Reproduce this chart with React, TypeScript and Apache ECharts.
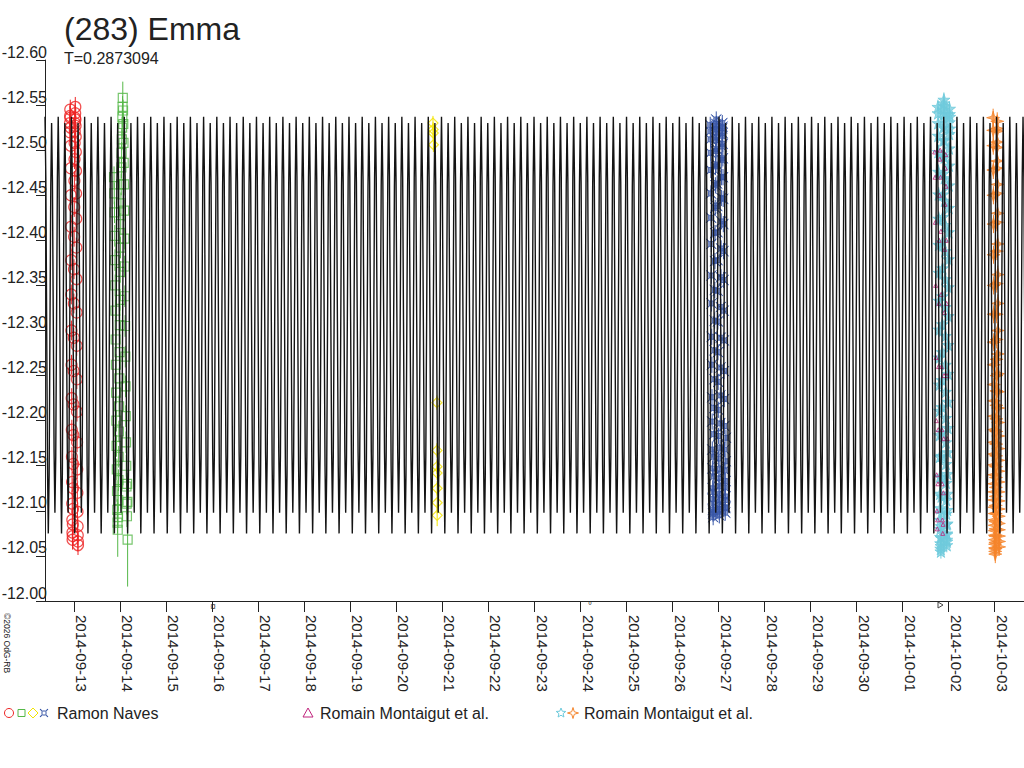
import React, { useEffect, useRef } from "react";
import * as echarts from "echarts";

const FONT = '"Liberation Sans", Arial, sans-serif';
const TITLE = "(283) Emma";
const SUBTITLE = "T=0.2873094";
const COPYRIGHT = "©2026 OdG-RB";

// rotation period (days) and x range (days since 2014-09-13 00:00)
const PERIOD = 0.2873094;
const X_MIN = -0.641;
const X_MAX = 20.641;
const Y_MIN = -12.6;
const Y_MAX = -12.0;
const Y_STEP = 0.05;

const dateLabels = [
  "2014-09-13", "2014-09-14", "2014-09-15", "2014-09-16", "2014-09-17", "2014-09-18", "2014-09-19",
  "2014-09-20", "2014-09-21", "2014-09-22", "2014-09-23", "2014-09-24", "2014-09-25", "2014-09-26",
  "2014-09-27", "2014-09-28", "2014-09-29", "2014-09-30", "2014-10-01", "2014-10-02", "2014-10-03",
];

// one rotation of the model lightcurve (16 phase samples, magnitudes)
const modelPhaseMags = [
  -12.537, -12.47, -12.31, -12.15, -12.075, -12.14, -12.3, -12.46,
  -12.53, -12.465, -12.315, -12.165, -12.098, -12.16, -12.31, -12.47,
];

// [day offset, magnitude, (optional error)]
const redCircles = [
  [-0.1, -12.52], [-0.0972, -12.53], [-0.0944, -12.538], [-0.0916, -12.545], [-0.0888, -12.536], [-0.086, -12.525],
  [-0.0832, -12.505], [-0.0804, -12.48], [-0.0776, -12.45], [-0.0748, -12.415], [-0.072, -12.378], [-0.0692, -12.34],
  [-0.0664, -12.3], [-0.0636, -12.262], [-0.0608, -12.225], [-0.058, -12.19], [-0.0552, -12.16], [-0.0524, -12.132],
  [-0.0496, -12.108], [-0.0468, -12.09], [-0.044, -12.076], [-0.0412, -12.068], [-0.0384, -12.072], [-0.0356, -12.085],
  [-0.0328, -12.102], [-0.03, -12.125], [-0.0272, -12.152], [-0.0244, -12.184], [-0.0216, -12.218], [-0.0188, -12.255],
  [-0.016, -12.292], [-0.0132, -12.33], [-0.0104, -12.368], [-0.0076, -12.404], [-0.0048, -12.437], [-0.002, -12.466],
  [0.0008, -12.49], [0.0036, -12.508], [0.0064, -12.521], [0.0092, -12.53], [0.012, -12.536], [0.0148, -12.541],
  [0.0176, -12.548], [0.0204, -12.534], [0.0232, -12.527], [0.026, -12.515], [0.0288, -12.498], [0.0316, -12.477],
  [0.0344, -12.452], [0.0372, -12.424], [0.04, -12.392], [0.0428, -12.357], [0.0456, -12.32], [0.0484, -12.283],
  [0.0512, -12.246], [0.054, -12.21], [0.0568, -12.176], [0.0596, -12.146], [0.0624, -12.12], [0.0652, -12.099],
  [0.068, -12.083], [0.0708, -12.073], [0.0736, -12.066], [0.0764, -12.062],
];

const greenSquares = [
  [0.86, -12.47], [0.865, -12.452], [0.87, -12.431], [0.875, -12.405], [0.88, -12.378], [0.885, -12.35],
  [0.89, -12.322], [0.895, -12.29], [0.9, -12.262], [0.905, -12.231], [0.91, -12.2], [0.915, -12.172],
  [0.92, -12.146], [0.925, -12.122], [0.93, -12.101], [0.935, -12.087], [0.94, -12.079, 0.03], [0.945, -12.093],
  [0.95, -12.112], [0.955, -12.134], [0.96, -12.16], [0.965, -12.188], [0.97, -12.216], [0.975, -12.247],
  [0.98, -12.276], [0.985, -12.306], [0.99, -12.334], [0.995, -12.365], [1.0, -12.392], [1.005, -12.418],
  [1.01, -12.441], [1.015, -12.462], [1.02, -12.481], [1.025, -12.497], [1.03, -12.512], [1.035, -12.525],
  [1.04, -12.537], [1.045, -12.548], [1.05, -12.558, 0.018], [1.055, -12.544], [1.06, -12.529], [1.065, -12.508],
  [1.07, -12.486], [1.075, -12.462], [1.08, -12.433], [1.085, -12.402], [1.09, -12.371], [1.095, -12.338],
  [1.1, -12.305], [1.105, -12.271], [1.11, -12.238], [1.115, -12.205], [1.12, -12.176], [1.125, -12.15],
  [1.13, -12.127], [1.135, -12.108], [1.14, -12.094], [1.145, -12.13], [1.15, -12.11], [1.155, -12.068, 0.052],
];

const yellowDiamonds = [
  [7.793, -12.53], [7.796, -12.523], [7.799, -12.519], [7.802, -12.506],
  [7.878, -12.22], [7.879, -12.167], [7.88, -12.149], [7.881, -12.142],
  [7.882, -12.125], [7.883, -12.109, 0.012], [7.884, -12.095, 0.012],
];

const blueStars = [
  [13.82, -12.528], [13.8232, -12.521], [13.8264, -12.512], [13.8296, -12.497], [13.8328, -12.478], [13.836, -12.452],
  [13.8392, -12.425], [13.8424, -12.396], [13.8456, -12.361], [13.8488, -12.33], [13.852, -12.293], [13.8552, -12.262],
  [13.8584, -12.226], [13.8616, -12.199], [13.8648, -12.168], [13.868, -12.147], [13.8712, -12.125], [13.8744, -12.113],
  [13.8776, -12.101], [13.8808, -12.097], [13.884, -12.093], [13.8872, -12.099], [13.8904, -12.108], [13.8936, -12.121],
  [13.8968, -12.138], [13.9, -12.16], [13.9032, -12.185], [13.9064, -12.214], [13.9096, -12.246], [13.9128, -12.278],
  [13.916, -12.311], [13.9192, -12.345], [13.9224, -12.377], [13.9256, -12.408], [13.9288, -12.436], [13.932, -12.461],
  [13.9352, -12.482], [13.9384, -12.499], [13.9416, -12.511], [13.9448, -12.52], [13.948, -12.527], [13.9512, -12.534],
  [13.9544, -12.529], [13.9576, -12.523], [13.9608, -12.514], [13.964, -12.501], [13.9672, -12.484], [13.9704, -12.463],
  [13.9736, -12.438], [13.9768, -12.409], [13.98, -12.378], [13.9832, -12.344], [13.9864, -12.31], [13.9896, -12.276],
  [13.9928, -12.243], [13.996, -12.212], [13.9992, -12.183], [14.0024, -12.158], [14.0056, -12.136], [14.0088, -12.119],
  [14.012, -12.107], [14.0152, -12.099], [14.0184, -12.095], [14.0216, -12.102], [14.0248, -12.112], [14.028, -12.127],
  [14.0312, -12.146], [14.0344, -12.17], [14.0376, -12.197], [14.0408, -12.228], [14.044, -12.259], [14.0472, -12.292],
  [14.0504, -12.326], [14.0536, -12.359], [14.0568, -12.391], [14.06, -12.421], [14.0632, -12.447], [14.0664, -12.47],
  [14.0696, -12.489], [14.0728, -12.504], [14.076, -12.516], [14.0792, -12.524], [14.0824, -12.53], [14.0856, -12.526],
  [14.0888, -12.519], [14.092, -12.507], [14.0952, -12.491], [14.0984, -12.47], [14.1016, -12.446], [14.1048, -12.418],
  [14.108, -12.388], [14.1112, -12.356], [14.1144, -12.322], [14.1176, -12.289], [14.1208, -12.255], [14.124, -12.224],
  [14.1272, -12.194], [14.1304, -12.168], [14.1336, -12.145], [14.1368, -12.126], [14.14, -12.112], [14.1432, -12.103],
  [14.1464, -12.098], [14.1496, -12.104], [14.1528, -12.116], [14.156, -12.133], [14.1592, -12.155], [14.1624, -12.181],
];

const magentaTriangles = [
  [18.7, -12.498], [18.707, -12.47], [18.714, -12.42], [18.721, -12.35], [18.728, -12.27], [18.735, -12.2],
  [18.742, -12.14], [18.749, -12.1], [18.756, -12.08], [18.763, -12.09], [18.77, -12.13], [18.777, -12.19],
  [18.784, -12.26], [18.791, -12.33], [18.798, -12.4], [18.805, -12.45], [18.812, -12.49], [18.819, -12.5],
  [18.826, -12.47], [18.833, -12.41], [18.84, -12.34], [18.847, -12.26], [18.854, -12.19], [18.861, -12.13],
  [18.868, -12.09], [18.875, -12.075], [18.882, -12.085], [18.889, -12.12], [18.896, -12.18], [18.903, -12.25],
  [18.91, -12.32], [18.917, -12.39], [18.924, -12.44], [18.931, -12.48], [18.938, -12.495], [18.945, -12.46],
  [18.952, -12.4], [18.959, -12.33], [18.966, -12.25], [18.973, -12.18],
];

const cyanStars = [
  [18.77, -12.548], [18.7726, -12.541], [18.7752, -12.53], [18.7778, -12.516], [18.7804, -12.498], [18.783, -12.476],
  [18.7856, -12.451], [18.7882, -12.424], [18.7908, -12.395], [18.7934, -12.364], [18.796, -12.333], [18.7986, -12.301],
  [18.8012, -12.27], [18.8038, -12.24], [18.8064, -12.211], [18.809, -12.184], [18.8116, -12.16], [18.8142, -12.138],
  [18.8168, -12.119], [18.8194, -12.103], [18.822, -12.09], [18.8246, -12.08], [18.8272, -12.071], [18.8298, -12.064],
  [18.8324, -12.058], [18.835, -12.055], [18.8376, -12.061], [18.8402, -12.07], [18.8428, -12.083], [18.8454, -12.098],
  [18.848, -12.116], [18.8506, -12.137], [18.8532, -12.161], [18.8558, -12.187], [18.8584, -12.215], [18.861, -12.245],
  [18.8636, -12.276], [18.8662, -12.307], [18.8688, -12.338], [18.8714, -12.369], [18.874, -12.398], [18.8766, -12.426],
  [18.8792, -12.451], [18.8818, -12.474], [18.8844, -12.494], [18.887, -12.511], [18.8896, -12.525], [18.8922, -12.536],
  [18.8948, -12.545], [18.8974, -12.552], [18.9, -12.556], [18.9026, -12.549], [18.9052, -12.54], [18.9078, -12.527],
  [18.9104, -12.511], [18.913, -12.492], [18.9156, -12.469], [18.9182, -12.444], [18.9208, -12.417], [18.9234, -12.388],
  [18.926, -12.357], [18.9286, -12.326], [18.9312, -12.294], [18.9338, -12.262], [18.9364, -12.232], [18.939, -12.203],
  [18.9416, -12.176], [18.9442, -12.152], [18.9468, -12.131], [18.9494, -12.112], [18.952, -12.097], [18.9546, -12.085],
  [18.9572, -12.075], [18.9598, -12.068], [18.9624, -12.062], [18.965, -12.066], [18.9676, -12.074], [18.9702, -12.086],
  [18.9728, -12.101], [18.9754, -12.119], [18.978, -12.141], [18.9806, -12.165], [18.9832, -12.192], [18.9858, -12.221],
  [18.9884, -12.252], [18.991, -12.284], [18.9936, -12.316], [18.9962, -12.348], [18.9988, -12.379], [19.0014, -12.409],
  [19.004, -12.436], [19.0066, -12.461], [19.0092, -12.483], [19.0118, -12.502], [19.0144, -12.518], [19.017, -12.531],
  [19.0196, -12.54], [19.0222, -12.546], [19.0248, -12.537], [19.0274, -12.524],
];

const orangeStars = [
  [19.97, -12.536], [19.97146, -12.522], [19.97292, -12.505], [19.97438, -12.478], [19.97584, -12.45], [19.9773, -12.418],
  [19.97876, -12.384], [19.98022, -12.35], [19.98168, -12.318], [19.98314, -12.287], [19.9846, -12.262], [19.98606, -12.24],
  [19.98752, -12.222], [19.98898, -12.205], [19.99044, -12.19], [19.9919, -12.176], [19.99336, -12.163], [19.99482, -12.151],
  [19.99628, -12.14], [19.99774, -12.13], [19.9992, -12.121], [20.00066, -12.112], [20.00212, -12.104], [20.00358, -12.097],
  [20.00504, -12.09], [20.0065, -12.084], [20.00796, -12.078], [20.00942, -12.073], [20.01088, -12.068], [20.01234, -12.063],
  [20.0138, -12.059], [20.01526, -12.055], [20.01672, -12.052], [20.01818, -12.058], [20.01964, -12.065], [20.0211, -12.072],
  [20.02256, -12.08], [20.02402, -12.088], [20.02548, -12.097], [20.02694, -12.106], [20.0284, -12.116], [20.02986, -12.126],
  [20.03132, -12.137], [20.03278, -12.149], [20.03424, -12.161], [20.0357, -12.174], [20.03716, -12.188], [20.03862, -12.202],
  [20.04008, -12.217], [20.04154, -12.233], [20.043, -12.25], [20.04446, -12.268], [20.04592, -12.29], [20.04738, -12.318],
  [20.04884, -12.352], [20.0503, -12.388], [20.05176, -12.42], [20.05322, -12.452], [20.05468, -12.48], [20.05614, -12.503],
  [20.0576, -12.521], [20.05906, -12.532], [20.06052, -12.524], [20.06198, -12.509], [20.06344, -12.488], [20.0649, -12.462],
  [20.06636, -12.43], [20.06782, -12.396], [20.06928, -12.362], [20.07074, -12.33], [20.0722, -12.3], [20.07366, -12.274],
  [20.07512, -12.252], [20.07658, -12.232], [20.07804, -12.214], [20.0795, -12.198], [20.08096, -12.183], [20.08242, -12.169],
  [20.08388, -12.156], [20.08534, -12.144], [20.0868, -12.132], [20.08826, -12.121], [20.08972, -12.111], [20.09118, -12.102],
  [20.09264, -12.094], [20.0941, -12.086], [20.09556, -12.079], [20.09702, -12.072], [20.09848, -12.066], [20.09994, -12.06],
];

const COLORS = {
  red: "#ee2424",
  green: "#55b848",
  yellow: "#f2e400",
  blue: "#3a58a8",
  magenta: "#c0237c",
  cyan: "#6fcbdc",
  orange: "#f5852c",
  ink: "#222222",
};

const SYM_CURRENCY = "path://M0,0L3,2.5L7,2.5L10,0L7.5,3L7.5,7L10,10L7,7.5L3,7.5L0,10L2.5,7L2.5,3Z";
const SYM_STAR5 = "path://M5,0L6.2,3.6L10,3.6L6.9,5.9L8.1,9.5L5,7.3L1.9,9.5L3.1,5.9L0,3.6L3.8,3.6Z";
const SYM_STAR4 = "path://M5,0L6.1,3.9L10,5L6.1,6.1L5,10L3.9,6.1L0,5L3.9,3.9Z";

function buildModel() {
  const out: number[][] = [];
  const n = modelPhaseMags.length;
  const cycles = Math.ceil((X_MAX - X_MIN) / PERIOD) + 1;
  for (let k = 0; k < cycles; k++) {
    for (let j = 0; j < n; j++) {
      const t = X_MIN + (k + j / n) * PERIOD;
      if (t > X_MAX + PERIOD) break;
      out.push([t, modelPhaseMags[j]]);
    }
  }
  return out;
}

function scatter(name: string, pts: number[][], symbol: string, size: number, color: string, fill: string, width = 1) {
  return {
    type: "scatter",
    name,
    data: pts.map((p) => [p[0], p[1]]),
    symbol,
    symbolSize: size,
    z: 2,
    silent: true,
    itemStyle: { color: fill, borderColor: color, borderWidth: width },
  };
}

function errorBars(name: string, pts: number[][], defErr: number, color: string) {
  return {
    type: "custom",
    name,
    z: 1,
    silent: true,
    data: pts.map((p) => [p[0], p[1], p.length > 2 ? p[2] : defErr]),
    encode: { x: 0, y: 1 },
    renderItem: (_params: any, api: any) => {
      const t = api.value(0);
      const m = api.value(1);
      const e = api.value(2);
      const a = api.coord([t, m - e]);
      const b = api.coord([t, m + e]);
      return {
        type: "line",
        shape: { x1: a[0], y1: a[1], x2: b[0], y2: b[1] },
        style: { stroke: color, lineWidth: 1 },
      };
    },
  };
}

function starPoints(cx: number, cy: number, rOut: number, rIn: number, n: number, rot: number) {
  const pts: number[][] = [];
  for (let i = 0; i < n * 2; i++) {
    const r = i % 2 === 0 ? rOut : rIn;
    const a = rot + (i * Math.PI) / n;
    pts.push([cx + r * Math.sin(a), cy - r * Math.cos(a)]);
  }
  return pts;
}

function legendText(x: number, text: string) {
  return {
    type: "text",
    x,
    y: 713,
    style: { text, fontSize: 16, fontFamily: FONT, fill: COLORS.ink, align: "left", verticalAlign: "middle" },
  };
}

export default function App() {
  const ref = useRef<HTMLDivElement>(null);

  useEffect(() => {
    if (!ref.current) return;
    const chart = echarts.init(ref.current, undefined, { renderer: "svg" });
    const dayIdx = dateLabels.map((_, i) => i);
    const outline = (c: string) => ({ fill: "none", stroke: c, lineWidth: 1 });
    const clear = "rgba(0,0,0,0)";

    chart.setOption({
      animation: false,
      backgroundColor: "#ffffff",
      textStyle: { fontFamily: FONT },
      title: {
        text: TITLE,
        subtext: SUBTITLE,
        left: 64,
        top: 13,
        padding: 0,
        itemGap: 6,
        textStyle: { fontSize: 32, fontWeight: "normal", color: COLORS.ink, fontFamily: FONT, lineHeight: 32 },
        subtextStyle: { fontSize: 16, color: COLORS.ink, fontFamily: FONT, lineHeight: 15 },
      },
      grid: { left: 45, right: 0, top: 60, bottom: 167, containLabel: false, outerBoundsMode: "none" },
      xAxis: {
        type: "value",
        min: X_MIN,
        max: X_MAX,
        splitLine: { show: false },
        axisLine: { show: true, onZero: false, lineStyle: { color: COLORS.ink, width: 1 } },
        axisTick: { show: true, customValues: dayIdx, length: 11, lineStyle: { color: COLORS.ink } },
        axisLabel: {
          customValues: dayIdx,
          rotate: -90,
          margin: 14,
          align: "left",
          verticalAlign: "bottom",
          fontSize: 15,
          fontFamily: FONT,
          color: COLORS.ink,
          formatter: (v: number) => dateLabels[Math.round(v)] ?? "",
        },
      },
      yAxis: {
        type: "value",
        inverse: true,
        min: Y_MIN,
        max: Y_MAX,
        interval: Y_STEP,
        splitLine: { show: false },
        axisLine: { show: true, onZero: false, lineStyle: { color: COLORS.ink, width: 1 } },
        axisTick: { show: true, length: 9, lineStyle: { color: COLORS.ink } },
        axisLabel: {
          margin: -2,
          verticalAlign: "bottom",
          fontSize: 16,
          fontFamily: FONT,
          color: COLORS.ink,
          formatter: (v: number) => v.toFixed(2),
        },
      },
      series: [
        errorBars("Ramon Naves", redCircles, 0.011, COLORS.red),
        errorBars("Ramon Naves", greenSquares, 0.012, COLORS.green),
        errorBars("Ramon Naves", yellowDiamonds, 0.008, COLORS.yellow),
        errorBars("Ramon Naves", blueStars, 0.009, COLORS.blue),
        errorBars("Romain Montaigut et al.", cyanStars, 0.008, COLORS.cyan),
        errorBars("Romain Montaigut et al.", orangeStars, 0.01, COLORS.orange),
        scatter("Ramon Naves", redCircles, "circle", 11, COLORS.red, clear, 1.2),
        scatter("Ramon Naves", greenSquares, "rect", 9, COLORS.green, clear, 1.2),
        scatter("Ramon Naves", yellowDiamonds, "diamond", 10, COLORS.yellow, clear, 1.2),
        scatter("Ramon Naves", blueStars, SYM_CURRENCY, 10, COLORS.blue, "rgba(58,88,168,0.75)"),
        scatter("Romain Montaigut et al.", cyanStars, SYM_STAR5, 12, COLORS.cyan, "rgba(111,203,220,0.9)"),
        scatter("Romain Montaigut et al.", magentaTriangles, "triangle", 4, COLORS.magenta, clear),
        scatter("Romain Montaigut et al.", orangeStars, SYM_STAR4, 13, COLORS.orange, "rgba(245,133,44,0.85)"),
        {
          type: "line",
          name: "model",
          data: buildModel(),
          showSymbol: false,
          symbol: "none",
          silent: true,
          z: 3,
          lineStyle: { color: "#141414", width: 1.4 },
        },
      ],
      graphic: [
        { type: "circle", shape: { cx: 9, cy: 713, r: 4.5 }, style: outline(COLORS.red) },
        { type: "rect", shape: { x: 18, y: 709.5, width: 7, height: 7 }, style: outline(COLORS.green) },
        { type: "polygon", shape: { points: [[33, 708], [38, 713], [33, 718], [28, 713]] }, style: outline(COLORS.yellow) },
        {
          type: "polygon",
          shape: { points: [[40, 709], [42.5, 711], [45.5, 711], [48, 709], [46, 711.5], [46, 714.5], [48, 717], [45.5, 715], [42.5, 715], [40, 717], [42, 714.5], [42, 711.5]] },
          style: outline(COLORS.blue),
        },
        legendText(57, "Ramon Naves"),
        { type: "polygon", shape: { points: [[308, 708], [313, 717], [303, 717]] }, style: outline(COLORS.magenta) },
        legendText(320, "Romain Montaigut et al."),
        { type: "polygon", shape: { points: starPoints(561, 713, 5, 2.2, 5, 0) }, style: outline(COLORS.cyan) },
        { type: "polygon", shape: { points: starPoints(573, 713, 5.5, 1.8, 4, 0) }, style: outline(COLORS.orange) },
        legendText(584, "Romain Montaigut et al."),
        {
          type: "text",
          x: 2,
          y: 613,
          rotation: -Math.PI / 2,
          style: { text: COPYRIGHT, fontSize: 8.5, fontFamily: FONT, fill: COLORS.ink, align: "left", verticalAlign: "bottom" },
        },
        { type: "text", x: 213, y: 606, style: { text: "¤", fontSize: 10, fontFamily: FONT, fill: "#444", align: "center", verticalAlign: "middle" } },
        { type: "text", x: 590, y: 605, style: { text: "°", fontSize: 10, fontFamily: FONT, fill: "#444", align: "center", verticalAlign: "middle" } },
        { type: "polygon", shape: { points: [[938, 602], [943, 605], [938, 608]] }, style: outline("#444") },
      ],
    });

    return () => chart.dispose();
  }, []);

  return <div ref={ref} style={{ position: "absolute", left: 0, top: 0, width: 1024, height: 768 }} />;
}
